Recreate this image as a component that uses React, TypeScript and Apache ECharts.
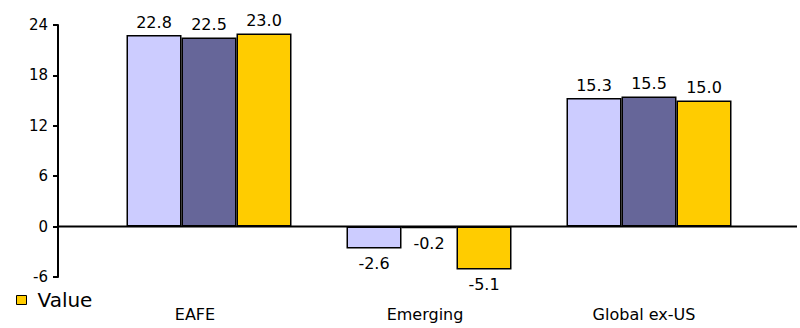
import React, { useEffect, useRef } from "react";
import * as echarts from "echarts";

const categories = ["EAFE", "Emerging", "Global ex-US"];
const seriesA = [22.8, -2.6, 15.3];
const seriesB = [22.5, -0.2, 15.5];
const seriesValue = [23.0, -5.1, 15.0];
const yMin = -6;
const yMax = 24;
const yInterval = 6;

const FONT = "'DejaVu Sans', 'Liberation Sans', Arial, sans-serif";

function makeData(vals: number[]) {
  return vals.map((v) => ({
    value: v,
    label: { position: v < 0 ? "bottom" : "top", distance: v < 0 ? 7 : 5 },
  }));
}

export default function App() {
  const ref = useRef<HTMLDivElement>(null);
  useEffect(() => {
    document.body.style.margin = "0";
    const chart = echarts.init(ref.current!, null, { renderer: "svg" });
    const label = {
      show: true,
      fontSize: 16,
      color: "#000",
      fontFamily: FONT,
      formatter: (p: any) => Number(p.value).toFixed(1),
    };
    const mk = (name: string, vals: number[], color: string) => ({
      type: "bar",
      name,
      data: makeData(vals),
      barWidth: 55,
      barGap: "0%",
      itemStyle: { color, borderColor: "#000", borderWidth: 1.5 },
      label,
    });
    const catStyle = { fontSize: 16, color: "#000", fontFamily: FONT };
    chart.setOption({
      animation: false,
      textStyle: { fontFamily: FONT },
      grid: { left: 99, right: 41, top: 25, bottom: 51 },
      legend: {
        data: ["Value"],
        left: 16,
        top: 290,
        padding: 0,
        icon: "rect",
        itemWidth: 10,
        itemHeight: 9,
        itemGap: 4,
        itemStyle: { borderColor: "#000", borderWidth: 1 },
        textStyle: { fontSize: 20, color: "#000", fontFamily: FONT, padding: [0, 0, 0, 6] },
      },
      xAxis: {
        type: "category",
        data: categories,
        axisLine: { show: false, onZero: false },
        axisTick: { show: false },
        axisLabel: {
          ...catStyle,
          margin: 29,
          interval: 0,
          formatter: (v: string, i: number) => `{c${i}|${v}}`,
          rich: {
            c0: { ...catStyle, padding: [0, 28, 0, 0] },
            c1: { ...catStyle, padding: [0, 8, 0, 0] },
            c2: { ...catStyle, padding: [0, 10, 0, 0] },
          },
        },
        splitLine: { show: false },
      },
      yAxis: {
        type: "value",
        min: yMin,
        max: yMax,
        interval: yInterval,
        offset: 41,
        axisLine: { show: true, lineStyle: { color: "#000", width: 2 } },
        axisTick: { show: true, length: 5, lineStyle: { color: "#000", width: 2 } },
        axisLabel: { fontSize: 15, color: "#000", margin: 10, fontFamily: FONT },
        splitLine: { show: false },
      },
      series: [
        mk("Series1", seriesA, "#CCCCFF"),
        mk("Series2", seriesB, "#666699"),
        mk("Value", seriesValue, "#FFCC00"),
      ],
    });
    const y0 = chart.convertToPixel({ yAxisIndex: 0 }, 0) as number;
    chart.setOption({
      graphic: [
        {
          type: "line",
          z: 100,
          shape: { x1: 58, y1: y0, x2: 797, y2: y0 },
          style: { stroke: "#000", lineWidth: 2 },
        },
      ],
    });
    return () => chart.dispose();
  }, []);
  return <div ref={ref} style={{ width: 800, height: 328 }} />;
}
